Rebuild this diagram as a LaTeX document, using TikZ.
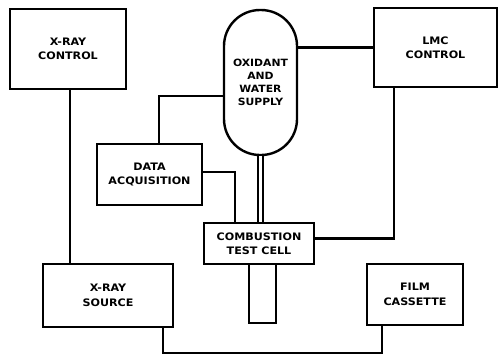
\documentclass[tikz,border=0pt]{standalone}
\usepackage{fontspec}
\setsansfont{DejaVu Sans}[FakeStretch=1.08]
\usepackage{tikz}

\begin{document}
\begin{tikzpicture}[x=1pt,y=-1pt,line width=2.4pt,
    box/.style={draw,inner sep=0pt,align=center,
    font=\sffamily\bfseries\fontsize{10.3}{14.5}\selectfont},
    tank/.style={box,rounded corners=36pt,font=\sffamily\bfseries\fontsize{10}{13}\selectfont},
    pipe/.style={double,double distance=3.5pt,line width=2pt}]
    \useasboundingbox (0,0) rectangle (500,354);
    \node[box,minimum width=116pt,minimum height=80pt](xrc)at(68,49){X-RAY\\CONTROL};
    \node[box,minimum width=123pt,minimum height=79pt](lmc)at(435.5,47.5){LMC\\CONTROL};
    \node[tank,minimum width=73pt,minimum height=145pt](tank)at(260.5,82.5){OXIDANT\\AND\\WATER\\SUPPLY};
    \node[box,minimum width=105pt,minimum height=61pt](dacq)at(149.5,174.5){DATA\\ACQUISITION};
    \node[box,minimum width=110pt,minimum height=41pt](cell)at(259,243.5){COMBUSTION\\TEST CELL};
    \node[box,minimum width=27pt,minimum height=59pt](tube)at(262.5,293.5){};
    \node[box,minimum width=130pt,minimum height=63pt](xrs)at(108,295.5){X-RAY\\SOURCE};
    \node[box,minimum width=96pt,minimum height=61pt](film)at(415,294.5){FILM\\CASSETTE};
    % connections
    \draw([xshift=2pt]xrc.south)--([xshift=2pt]xrc.south |- xrs.north);
    \draw([xshift=-11pt]xrs.south east)--++(0,25)-|([xshift=16pt]film.south west);
    \draw(lmc.west)--(lmc.west -| tank.east);
    \draw([xshift=21pt]lmc.south west)|-([yshift=5pt]cell.east);
    \draw([xshift=63pt]dacq.north west)|-([yshift=-13.5pt]tank.west);
    \draw([yshift=2.5pt]dacq.east)-|([xshift=32pt]cell.north west);
    \draw[pipe](tank.south)--(tank.south |- cell.north);
\end{tikzpicture}
\end{document}
